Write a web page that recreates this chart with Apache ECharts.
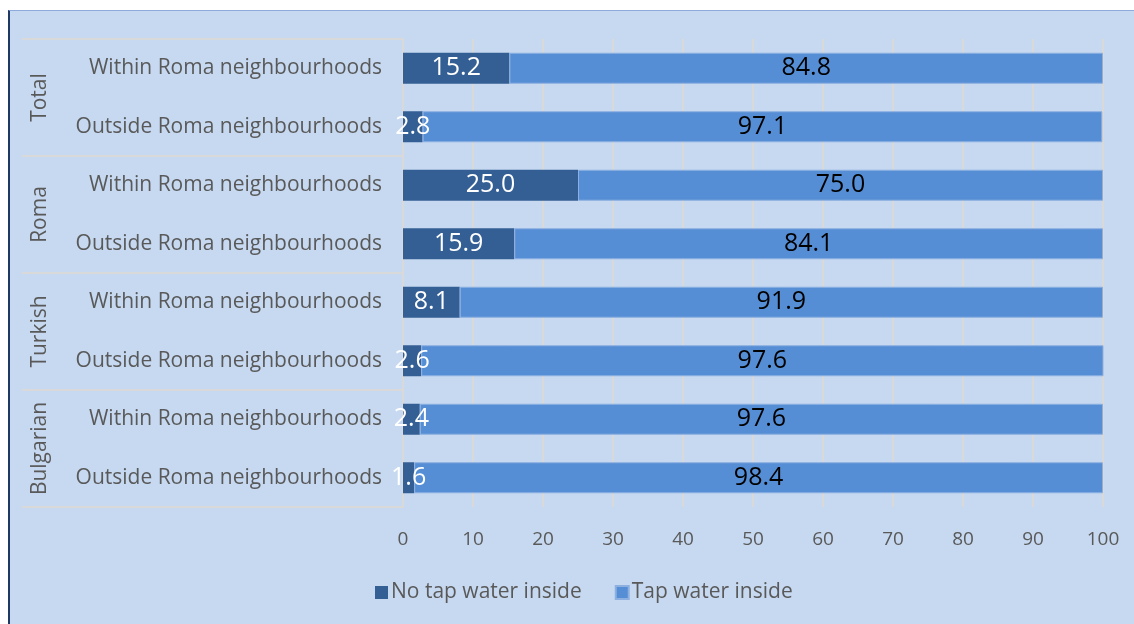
<!DOCTYPE html>
<html>
<head>
<meta charset="utf-8">
<script src="https://cdn.jsdelivr.net/npm/echarts@6/dist/echarts.min.js"></script>
<style>
  html, body { margin: 0; padding: 0; background: #ffffff; }
  #frame {
    position: absolute; left: 8px; top: 10px; width: 1126px; height: 614px;
    background: #c6d9f1; border-left: 2px solid #1f3864; border-top: 1px solid #8eaadb;
  }
  #chart { position: absolute; left: 0; top: 0; width: 1134px; height: 624px; }
</style>
</head>
<body>
<div id="frame"></div>
<div id="chart"></div>
<script>
// Groups and locations, top to bottom
const groups = ['Total', 'Roma', 'Turkish', 'Bulgarian'];
const locations = ['Within Roma neighbourhoods', 'Outside Roma neighbourhoods'];
const rowKeys = groups.flatMap(g => locations.map(l => g + '|' + l));

// Shares of households (%)
const noTapWater = [15.2, 2.8, 25.0, 15.9, 8.1, 2.6, 2.4, 1.6];
const tapWater   = [84.8, 97.1, 75.0, 84.1, 91.9, 97.6, 97.6, 98.4];

// x-axis ticks
const xMin = 0, xMax = 100, xStep = 10;

const FONT = '"Open Sans", "Noto Sans", sans-serif';
const GRID_LINE = '#d9d9d9';
const TEXT = '#595959';

const chart = echarts.init(document.getElementById('chart'), null, { renderer: 'canvas' });

chart.setOption({
  backgroundColor: 'transparent',
  textStyle: { fontFamily: FONT },
  animation: false,
  grid: { left: 403, right: 31, top: 39, bottom: 117, containLabel: false },
  legend: {
    data: ['No tap water inside', 'Tap water inside'],
    left: 370, top: 577,
    icon: 'rect', itemWidth: 13, itemHeight: 13, itemGap: 33,
    textStyle: { fontFamily: FONT, fontSize: 21, color: TEXT, padding: [0, 0, 0, -2] }
  },
  xAxis: {
    type: 'value', min: xMin, max: xMax, interval: xStep,
    axisLine: { show: false }, axisTick: { show: false },
    splitLine: { show: true, lineStyle: { color: GRID_LINE, width: 2 } },
    axisLabel: { color: TEXT, fontSize: 19, margin: 23, fontFamily: FONT }
  },
  yAxis: [
    {
      type: 'category', data: rowKeys, inverse: true,
      axisLine: { show: false }, axisTick: { show: false },
      axisLabel: {
        color: TEXT, fontSize: 21, margin: 21, fontFamily: FONT, interval: 0,
        formatter: v => v.split('|')[1]
      }
    },
    {
      // Group axis: its long ticks draw the separators between groups
      type: 'category', data: groups, inverse: true, position: 'left',
      axisLine: { show: true, lineStyle: { color: GRID_LINE, width: 2 } },
      axisTick: { show: true, interval: 0, length: 381, lineStyle: { color: GRID_LINE, width: 2 } },
      axisLabel: { color: TEXT, fontSize: 21, rotate: 90, interval: 0, margin: 352, fontFamily: FONT }
    }
  ],
  series: [
    {
      name: 'No tap water inside', type: 'bar', stack: 'share', barWidth: '53%',
      yAxisIndex: 0, data: noTapWater,
      itemStyle: { color: '#345f95' },
      label: {
        show: true, position: 'inside', color: '#ffffff', fontSize: 25, fontFamily: FONT,
        formatter: p => p.value.toFixed(1)
      }
    },
    {
      name: 'Tap water inside', type: 'bar', stack: 'share', barWidth: '53%',
      yAxisIndex: 0, data: tapWater,
      itemStyle: { color: '#558ed5', borderColor: '#8db0e0', borderWidth: 1 },
      label: {
        show: true, position: 'inside', color: '#000000', fontSize: 25, fontFamily: FONT,
        formatter: p => p.value.toFixed(1)
      }
    }
  ]
});
</script>
</body>
</html>
